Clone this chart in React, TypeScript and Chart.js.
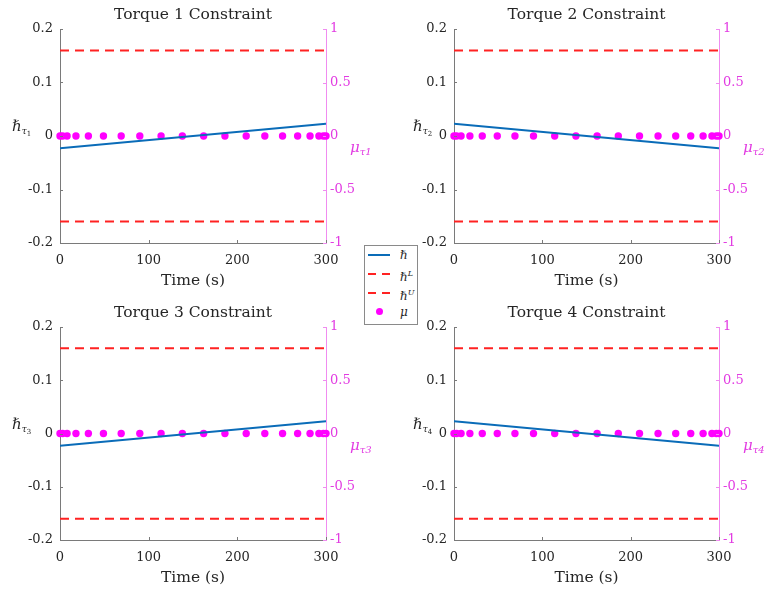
import React, { useEffect, useRef } from "react";
import { Chart, registerables } from "chart.js";

Chart.register(...registerables);

// ---------- data ----------
const timeEnds = [0, 300];
const hbarTau1 = [-0.023, 0.023];
const hbarTau2 = [0.023, -0.023];
const hbarTau3 = [-0.023, 0.023];
const hbarTau4 = [0.023, -0.023];
const hbarLower = [-0.16, -0.16];
const hbarUpper = [0.16, 0.16];
const muTimes = [0, 3, 8, 18, 32, 49, 69, 90, 114, 138, 162, 186, 210, 231, 251, 268, 282, 292, 297, 300];
const muTau1 = [0, 0, 0, 0, 0, 0, 0, 0, 0, 0, 0, 0, 0, 0, 0, 0, 0, 0, 0, 0];
const muTau2 = [0, 0, 0, 0, 0, 0, 0, 0, 0, 0, 0, 0, 0, 0, 0, 0, 0, 0, 0, 0];
const muTau3 = [0, 0, 0, 0, 0, 0, 0, 0, 0, 0, 0, 0, 0, 0, 0, 0, 0, 0, 0, 0];
const muTau4 = [0, 0, 0, 0, 0, 0, 0, 0, 0, 0, 0, 0, 0, 0, 0, 0, 0, 0, 0, 0];
const leftTicks = [-0.2, -0.1, 0, 0.1, 0.2];
const rightTicks = [-1, -0.5, 0, 0.5, 1];
const timeTicks = [0, 100, 200, 300];
const titles = ["Torque 1 Constraint", "Torque 2 Constraint", "Torque 3 Constraint", "Torque 4 Constraint"];
const subscripts = ["1", "2", "3", "4"];
const xTitle = "Time (s)";

// ---------- styles ----------
const SERIF = '"DejaVu Serif", serif';
const DARK = "#262626";
const AXIS_GRAY = "#7a7a7a";
const VIOLET_AXIS = "#f08cf0";
const VIOLET_TEXT = "#e23ce2";
const BLUE = "#0a6cb8";
const RED = "#ff2222";
const MAGENTA = "#ff00ff";

const panels = [
  { title: titles[0], hbar: hbarTau1, mu: muTau1, sub: subscripts[0], left: 0, top: 0, lw: 60, rw: 57, padTop: 29, xh: 52, hOff: 48 },
  { title: titles[1], hbar: hbarTau2, mu: muTau2, sub: subscripts[1], left: 383, top: 0, lw: 71, rw: 47, padTop: 29, xh: 52, hOff: 41 },
  { title: titles[2], hbar: hbarTau3, mu: muTau3, sub: subscripts[2], left: 0, top: 295, lw: 60, rw: 57, padTop: 32, xh: 50, hOff: 48 },
  { title: titles[3], hbar: hbarTau4, mu: muTau4, sub: subscripts[3], left: 383, top: 295, lw: 71, rw: 47, padTop: 32, xh: 50, hOff: 41 },
];

const W = 383;
const H = 295;

function makeDecor(p: any) {
  return {
    id: "decor" + p.sub,
    afterDraw(chart: any) {
      const ctx = chart.ctx;
      const a = chart.chartArea;
      const ys = chart.scales.y;
      const y1 = chart.scales.y1;
      const xs = chart.scales.x;
      ctx.save();
      // inward ticks
      ctx.lineWidth = 1;
      ctx.strokeStyle = AXIS_GRAY;
      leftTicks.forEach((v) => {
        const py = Math.round(ys.getPixelForValue(v)) + 0.5;
        ctx.beginPath();
        ctx.moveTo(a.left, py);
        ctx.lineTo(a.left + 3, py);
        ctx.stroke();
      });
      timeTicks.forEach((v) => {
        const px = Math.round(xs.getPixelForValue(v)) + 0.5;
        ctx.beginPath();
        ctx.moveTo(px, a.bottom);
        ctx.lineTo(px, a.bottom - 3);
        ctx.stroke();
      });
      ctx.strokeStyle = VIOLET_AXIS;
      rightTicks.forEach((v) => {
        const py = Math.round(y1.getPixelForValue(v)) + 0.5;
        ctx.beginPath();
        ctx.moveTo(a.right, py);
        ctx.lineTo(a.right - 3, py);
        ctx.stroke();
      });
      const cx = (a.left + a.right) / 2;
      // title
      ctx.fillStyle = DARK;
      ctx.font = "15.5px " + SERIF;
      ctx.textAlign = "center";
      ctx.textBaseline = "middle";
      ctx.fillText(p.title, cx, a.top - 14);
      // x title
      ctx.fillText(xTitle, cx, a.bottom + 38);
      // y label left
      const zeroY = ys.getPixelForValue(0);
      ctx.textAlign = "left";
      ctx.textBaseline = "alphabetic";
      ctx.font = "italic 15px " + SERIF;
      let x0 = a.left - p.hOff;
      ctx.fillText("\u210F", x0, zeroY - 5);
      x0 += ctx.measureText("\u210F").width;
      ctx.font = "italic 9px " + SERIF;
      ctx.fillText("\u03C4", x0, zeroY - 2);
      x0 += ctx.measureText("\u03C4").width;
      ctx.font = "7px " + SERIF;
      ctx.fillText(p.sub, x0, zeroY);
      // y label right
      ctx.fillStyle = VIOLET_TEXT;
      ctx.font = "italic 15px " + SERIF;
      let x1 = a.right + 24;
      ctx.fillText("\u03BC", x1, zeroY + 16);
      x1 += ctx.measureText("\u03BC").width;
      ctx.font = "italic 10px " + SERIF;
      ctx.fillText("\u03C4" + p.sub, x1, zeroY + 19);
      ctx.restore();
    },
  };
}

function Panel({ p }: { p: any }) {
  const ref = useRef<HTMLCanvasElement | null>(null);
  useEffect(() => {
    if (!ref.current) return;
    const tickFont = { family: SERIF, size: 13 };
    const chart = new Chart(ref.current, {
      type: "scatter",
      data: {
        datasets: [
          {
            label: "mu",
            data: muTimes.map((t, i) => ({ x: t, y: p.mu[i] })),
            yAxisID: "y1",
            showLine: false,
            pointRadius: 3.7,
            pointBackgroundColor: MAGENTA,
            pointBorderWidth: 0,
            borderColor: MAGENTA,
            clip: false,
            order: 2,
          },
          {
            label: "hbar",
            data: timeEnds.map((t, i) => ({ x: t, y: p.hbar[i] })),
            yAxisID: "y",
            showLine: true,
            borderColor: BLUE,
            borderWidth: 2,
            pointRadius: 0,
            order: 1,
          },
          {
            label: "hbarL",
            data: timeEnds.map((t, i) => ({ x: t, y: hbarLower[i] })),
            yAxisID: "y",
            showLine: true,
            borderColor: RED,
            borderWidth: 2,
            borderDash: [9, 6],
            pointRadius: 0,
            order: 1,
          },
          {
            label: "hbarU",
            data: timeEnds.map((t, i) => ({ x: t, y: hbarUpper[i] })),
            yAxisID: "y",
            showLine: true,
            borderColor: RED,
            borderWidth: 2,
            borderDash: [9, 6],
            pointRadius: 0,
            order: 1,
          },
        ],
      } as any,
      options: {
        responsive: false,
        animation: false,
        layout: { padding: { top: p.padTop, left: 0, right: 0, bottom: 0 } },
        plugins: { legend: { display: false }, tooltip: { enabled: false }, title: { display: false } },
        scales: {
          x: {
            type: "linear",
            position: "bottom",
            min: 0,
            max: 300,
            grid: { display: false, drawTicks: false },
            border: { color: AXIS_GRAY, width: 1 },
            ticks: { font: tickFont, color: DARK, padding: 10, maxRotation: 0, autoSkip: false, callback: (v: any) => String(v) },
            afterBuildTicks: (s: any) => {
              s.ticks = timeTicks.map((v) => ({ value: v }));
            },
            afterFit: (s: any) => {
              s.height = p.xh;
            },
          },
          y: {
            type: "linear",
            position: "left",
            min: -0.2,
            max: 0.2,
            grid: { display: false, drawTicks: false },
            border: { color: AXIS_GRAY, width: 1 },
            ticks: { font: tickFont, color: DARK, padding: 7, autoSkip: false, callback: (v: any) => String(v) },
            afterBuildTicks: (s: any) => {
              s.ticks = leftTicks.map((v) => ({ value: v }));
            },
            afterFit: (s: any) => {
              s.width = p.lw;
            },
          },
          y1: {
            type: "linear",
            position: "right",
            min: -1,
            max: 1,
            grid: { display: false, drawTicks: false },
            border: { color: VIOLET_AXIS, width: 1 },
            ticks: { font: tickFont, color: VIOLET_TEXT, padding: 4, autoSkip: false, callback: (v: any) => String(v) },
            afterBuildTicks: (s: any) => {
              s.ticks = rightTicks.map((v) => ({ value: v }));
            },
            afterFit: (s: any) => {
              s.width = p.rw;
            },
          },
        },
      } as any,
      plugins: [makeDecor(p)],
    });
    return () => chart.destroy();
  }, []);
  return (
    <canvas
      ref={ref}
      width={W}
      height={H}
      style={{ position: "absolute", left: p.left, top: p.top, width: W, height: H }}
    />
  );
}

const dash = `repeating-linear-gradient(to right, ${RED} 0px, ${RED} 8px, transparent 8px, transparent 14px)`;

function Legend() {
  const rowStyle = (top: number): React.CSSProperties => ({ position: "absolute", left: 0, top, width: 52, height: 16 });
  const swatch: React.CSSProperties = { position: "absolute", left: 3, top: 7, width: 22, height: 2 };
  const text: React.CSSProperties = { position: "absolute", left: 35, top: 0, lineHeight: "16px", fontStyle: "italic" };
  return (
    <div
      style={{
        position: "absolute",
        left: 364,
        top: 245,
        width: 52,
        height: 78,
        border: "1px solid #8a8a8a",
        background: "#fff",
        fontFamily: SERIF,
        fontSize: 12,
        color: DARK,
        zIndex: 2,
      }}
    >
      <div style={rowStyle(1)}>
        <div style={{ ...swatch, background: BLUE }} />
        <span style={text}>{"\u210F"}</span>
      </div>
      <div style={rowStyle(20)}>
        <div style={{ ...swatch, background: dash }} />
        <span style={text}>
          {"\u210F"}
          <sup style={{ fontSize: 8 }}>L</sup>
        </span>
      </div>
      <div style={rowStyle(39)}>
        <div style={{ ...swatch, background: dash }} />
        <span style={text}>
          {"\u210F"}
          <sup style={{ fontSize: 8 }}>U</sup>
        </span>
      </div>
      <div style={rowStyle(58)}>
        <div
          style={{ position: "absolute", left: 11, top: 4, width: 7, height: 7, borderRadius: "50%", background: MAGENTA }}
        />
        <span style={text}>{"\u03BC"}</span>
      </div>
    </div>
  );
}

export default function App() {
  return (
    <div style={{ position: "absolute", left: 0, top: 0, width: 766, height: 590, background: "#fff", overflow: "hidden" }}>
      {panels.map((p) => (
        <Panel key={p.sub} p={p} />
      ))}
      <Legend />
    </div>
  );
}
